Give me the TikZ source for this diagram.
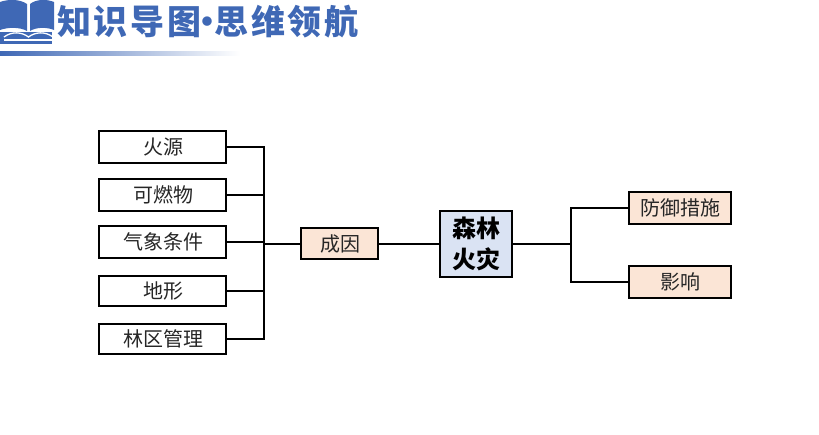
\documentclass[tikz,border=0pt]{standalone}
\usepackage{fontspec}
\setmainfont{Noto Sans CJK SC}
\definecolor{titleblue}{HTML}{3F68B5}
\definecolor{peach}{HTML}{FBE5D6}
\definecolor{paleblue}{HTML}{DAE3F3}
\newcommand{\lowered}[1]{\raisebox{-1.6pt}{\hspace{1pt}#1}}
\tikzset{
  plainbox/.style={draw=black,line width=2pt,fill=white,minimum height=31pt,inner sep=0pt,font=\fontsize{20}{24}\selectfont,text=black!85},
  causebox/.style={plainbox,minimum width=127pt},
  orangebox/.style={plainbox,fill=peach},
  centerbox/.style={plainbox,fill=paleblue,minimum width=72pt,minimum height=66pt,align=center,font=\fontsize{24}{31}\selectfont\bfseries,text=black},
  link/.style={draw=black,line width=2pt},
  titletext/.style={inner sep=0pt,text=titleblue,font=\fontsize{34}{40}\selectfont\bfseries}
}
\begin{document}
\begin{tikzpicture}[x=1pt,y=-1pt]
\useasboundingbox (0,0) rectangle (819,434);
% header
\fill[titleblue] (0,2) .. controls (8,-1) and (20,-1) .. (27,4) -- (27,31) .. controls (20,27) and (8,27) .. (0,30) -- cycle;
\fill[titleblue] (30,4) .. controls (36,-1) and (47,-1) .. (54,2) -- (54,30) .. controls (47,27) and (36,27) .. (30,31) -- cycle;
\fill[titleblue] (0,32) -- (52,32) -- (52,44) -- (0,44) -- cycle;
\draw[white,line width=1.3pt] (4,37) .. controls (12,31) and (22,32) .. (28.5,37) .. controls (35,32) and (45,31) .. (53,37);
\fill[white] (4,39) -- (53,39) -- (53,41) -- (4,41) -- cycle;
\shade[left color=titleblue,right color=white,draw=none] (0,51) rectangle (240,55);
\node[titletext,anchor=west] (title) at (57,21.5) {知\kern2.7pt 识\kern2.7pt 导\kern2.7pt 图\makebox[13pt]{·}思\kern2.7pt 维\kern2.7pt 领\kern2.7pt 航};
% nodes
\node[causebox,minimum height=32pt] (a) at (162.5,147) {\lowered{火源}};
\node[causebox,minimum height=32pt] (b) at (162.5,195) {\lowered{可燃物}};
\node[causebox,minimum height=32pt] (c) at (162.5,242) {\lowered{气象条件}};
\node[causebox,minimum height=30pt] (d) at (162.5,291) {\lowered{地形}};
\node[causebox,minimum height=30pt] (e) at (162.5,339) {\lowered{林区管理}};
\node[orangebox,minimum width=77pt] (cause) at (339.5,243.5) {\lowered{成因}};
\node[centerbox] (main) at (476,244) {森林\\火灾};
\node[orangebox,minimum width=102pt,minimum height=32pt] (f) at (680,208) {\lowered{防御措施}};
\node[orangebox,minimum width=102pt,minimum height=32pt] (g) at (680,282) {\lowered{影响}};
\coordinate (spineL) at (264,243.5);
\coordinate (spineR) at (571,243.5);
% connectors
\foreach \n in {a,b,c,d,e} \draw[link] (\n.east) -| (spineL);
\draw[link] (spineL) -- (cause.west);
\draw[link] (cause.east) -- (main.west |- cause.east);
\draw[link] (main.east |- spineR) -- (spineR);
\draw[link] (f.west) -| (spineR);
\draw[link] (g.west) -| (spineR);
\end{tikzpicture}
\end{document}
